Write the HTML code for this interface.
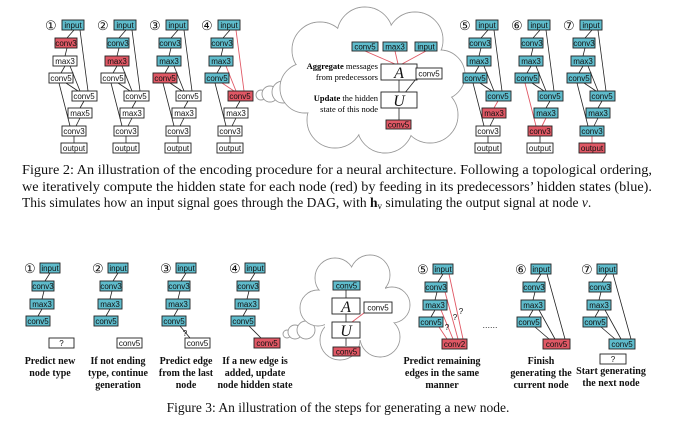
<!DOCTYPE html>
<html><head><meta charset="utf-8"><style>
html,body{margin:0;padding:0;background:#fff;overflow:hidden;}
svg{display:block;font-family:"Liberation Sans",sans-serif;}
.b{fill:#fff;stroke:#222;stroke-width:0.9}
.c{fill:#5fbccc;stroke:#222;stroke-width:0.9}
.r{fill:#e05865;stroke:#222;stroke-width:0.9}
.t{font-size:8px;text-anchor:middle;fill:#111}
.l{stroke:#222;stroke-width:0.8;fill:none}
.lr{stroke:#e05865;stroke-width:0.9;fill:none}
.n{font-size:13px;fill:#111}
.s{font-family:"Liberation Serif",serif;font-weight:bold;font-size:10px;text-anchor:middle;fill:#111}
.cap{font-family:"Liberation Serif",serif;font-size:13.5px;fill:#111}
.cl{fill:#fff;stroke:#999;stroke-width:0.9}
.cf{fill:#fff;stroke:none}
.m{font-family:"Liberation Serif",serif;font-style:italic;font-size:16px;text-anchor:middle;fill:#111}
</style></head><body>
<svg width="676" height="422" viewBox="0 0 676 422">

<g transform="translate(62,20)">
<text class="n" x="-17" y="10">①</text>
<path class="l" d="M12 10L5 18M5 28L3 36M3 46L-1 53M8 46L18 71M4 63L16 71M18 10L26 71M-3 63L8 106M22 81L18 88M18 98L14 106M12 116L12 123"/>
<rect class="c" x="0" y="0" width="22" height="10"/><text class="t" x="11" y="8">input</text>
<rect class="r" x="-7" y="18" width="22" height="10"/><text class="t" x="4" y="26">conv3</text>
<rect class="b" x="-9" y="36" width="24" height="10"/><text class="t" x="3" y="44">max3</text>
<rect class="b" x="-13" y="53" width="24" height="10"/><text class="t" x="-1" y="61">conv5</text>
<rect class="b" x="10" y="71" width="25" height="10"/><text class="t" x="22" y="79">conv5</text>
<rect class="b" x="6" y="88" width="24" height="10"/><text class="t" x="18" y="96">max5</text>
<rect class="b" x="0" y="106" width="24" height="10"/><text class="t" x="12" y="114">conv3</text>
<rect class="b" x="-1" y="123" width="26" height="10"/><text class="t" x="12" y="131">output</text>
</g>
<g transform="translate(114,20)">
<text class="n" x="-17" y="10">②</text>
<path class="l" d="M12 10L5 18M5 28L3 36M3 46L-1 53M8 46L18 71M4 63L16 71M18 10L26 71M-3 63L8 106M22 81L18 88M18 98L14 106M12 116L12 123"/>
<rect class="c" x="0" y="0" width="22" height="10"/><text class="t" x="11" y="8">input</text>
<rect class="c" x="-7" y="18" width="22" height="10"/><text class="t" x="4" y="26">conv3</text>
<rect class="r" x="-9" y="36" width="24" height="10"/><text class="t" x="3" y="44">max3</text>
<rect class="b" x="-13" y="53" width="24" height="10"/><text class="t" x="-1" y="61">conv5</text>
<rect class="b" x="10" y="71" width="25" height="10"/><text class="t" x="22" y="79">conv5</text>
<rect class="b" x="6" y="88" width="24" height="10"/><text class="t" x="18" y="96">max3</text>
<rect class="b" x="0" y="106" width="24" height="10"/><text class="t" x="12" y="114">conv3</text>
<rect class="b" x="-1" y="123" width="26" height="10"/><text class="t" x="12" y="131">output</text>
</g>
<g transform="translate(166,20)">
<text class="n" x="-17" y="10">③</text>
<path class="l" d="M12 10L5 18M5 28L3 36M3 46L-1 53M8 46L18 71M4 63L16 71M18 10L26 71M-3 63L8 106M22 81L18 88M18 98L14 106M12 116L12 123"/>
<rect class="c" x="0" y="0" width="22" height="10"/><text class="t" x="11" y="8">input</text>
<rect class="c" x="-7" y="18" width="22" height="10"/><text class="t" x="4" y="26">conv3</text>
<rect class="c" x="-9" y="36" width="24" height="10"/><text class="t" x="3" y="44">max3</text>
<rect class="r" x="-13" y="53" width="24" height="10"/><text class="t" x="-1" y="61">conv5</text>
<rect class="b" x="10" y="71" width="25" height="10"/><text class="t" x="22" y="79">conv5</text>
<rect class="b" x="6" y="88" width="24" height="10"/><text class="t" x="18" y="96">max3</text>
<rect class="b" x="0" y="106" width="24" height="10"/><text class="t" x="12" y="114">conv3</text>
<rect class="b" x="-1" y="123" width="26" height="10"/><text class="t" x="12" y="131">output</text>
</g>
<g transform="translate(218,20)">
<text class="n" x="-17" y="10">④</text>
<path class="l" d="M12 10L5 18M5 28L3 36M3 46L-1 53M-3 63L8 106M22 81L18 88M18 98L14 106M12 116L12 123"/>
<path class="lr" d="M8 46L18 71M4 63L16 71M18 10L26 71"/>
<rect class="c" x="0" y="0" width="22" height="10"/><text class="t" x="11" y="8">input</text>
<rect class="c" x="-7" y="18" width="22" height="10"/><text class="t" x="4" y="26">conv3</text>
<rect class="c" x="-9" y="36" width="24" height="10"/><text class="t" x="3" y="44">max3</text>
<rect class="c" x="-13" y="53" width="24" height="10"/><text class="t" x="-1" y="61">conv5</text>
<rect class="r" x="10" y="71" width="25" height="10"/><text class="t" x="22" y="79">conv5</text>
<rect class="b" x="6" y="88" width="24" height="10"/><text class="t" x="18" y="96">max3</text>
<rect class="b" x="0" y="106" width="24" height="10"/><text class="t" x="12" y="114">conv3</text>
<rect class="b" x="-1" y="123" width="26" height="10"/><text class="t" x="12" y="131">output</text>
</g>

<g>
<circle class="cl" cx="261" cy="95" r="5"/>
<circle class="cl" cx="270" cy="94" r="8"/>
<circle class="cl" cx="283" cy="92" r="11"/>
<circle class="cl" cx="320" cy="50" r="28"/><circle class="cl" cx="365" cy="35" r="28"/>
<circle class="cl" cx="415" cy="40" r="28"/><circle class="cl" cx="440" cy="75" r="25"/>
<circle class="cl" cx="430" cy="115" r="28"/><circle class="cl" cx="385" cy="125" r="28"/>
<circle class="cl" cx="335" cy="120" r="28"/><circle class="cl" cx="305" cy="88" r="25"/>
<circle class="cf" cx="320" cy="50" r="27.5"/><circle class="cf" cx="365" cy="35" r="27.5"/>
<circle class="cf" cx="415" cy="40" r="27.5"/><circle class="cf" cx="440" cy="75" r="24.5"/>
<circle class="cf" cx="430" cy="115" r="27.5"/><circle class="cf" cx="385" cy="125" r="27.5"/>
<circle class="cf" cx="335" cy="120" r="27.5"/><circle class="cf" cx="305" cy="88" r="24.5"/>
<rect class="cf" x="315" y="45" width="120" height="85"/>
<path class="lr" d="M365 51L395 64M395 51L398 64M426 51L402 64"/>
<path class="l" d="M399 80L399 92M416 79L404 94M399 108L399 120"/>
<rect class="c" x="352" y="42" width="26" height="9"/><text class="t" x="365" y="49.5">conv5</text>
<rect class="c" x="383" y="42" width="24" height="9"/><text class="t" x="395" y="49.5">max3</text>
<rect class="c" x="415" y="42" width="22" height="9"/><text class="t" x="426" y="49.5">input</text>
<rect class="b" x="381" y="64" width="36" height="16"/><text class="m" x="399" y="78">A</text>
<rect class="b" x="416" y="68" width="26" height="11"/><text class="t" x="429" y="76.5">conv5</text>
<rect class="b" x="381" y="92" width="36" height="16"/><text class="m" x="399" y="106">U</text>
<rect class="r" x="386" y="120" width="25" height="9"/><text class="t" x="398.5" y="127.5">conv5</text>
<text x="378" y="69" font-family="Liberation Serif,serif" font-size="8.5" text-anchor="end"><tspan font-weight="bold">Aggregate</tspan> messages</text>
<text x="378" y="80" font-family="Liberation Serif,serif" font-size="8.5" text-anchor="end">from predecessors</text>
<text x="378" y="101" font-family="Liberation Serif,serif" font-size="8.5" text-anchor="end"><tspan font-weight="bold">Update</tspan> the hidden</text>
<text x="378" y="112" font-family="Liberation Serif,serif" font-size="8.5" text-anchor="end">state of this node</text>
</g>

<g transform="translate(476,20)">
<text class="n" x="-17" y="10">⑤</text>
<path class="l" d="M12 10L5 18M5 28L3 36M3 46L-1 53M8 46L18 71M4 63L16 71M18 10L26 71M-3 63L8 106M18 98L14 106M12 116L12 123"/>
<path class="lr" d="M22 81L18 88"/>
<rect class="c" x="0" y="0" width="22" height="10"/><text class="t" x="11" y="8">input</text>
<rect class="c" x="-7" y="18" width="22" height="10"/><text class="t" x="4" y="26">conv3</text>
<rect class="c" x="-9" y="36" width="24" height="10"/><text class="t" x="3" y="44">max3</text>
<rect class="c" x="-13" y="53" width="24" height="10"/><text class="t" x="-1" y="61">conv5</text>
<rect class="c" x="10" y="71" width="25" height="10"/><text class="t" x="22" y="79">conv5</text>
<rect class="r" x="6" y="88" width="24" height="10"/><text class="t" x="18" y="96">max3</text>
<rect class="b" x="0" y="106" width="24" height="10"/><text class="t" x="12" y="114">conv3</text>
<rect class="b" x="-1" y="123" width="26" height="10"/><text class="t" x="12" y="131">output</text>
</g>
<g transform="translate(528,20)">
<text class="n" x="-17" y="10">⑥</text>
<path class="l" d="M12 10L5 18M5 28L3 36M3 46L-1 53M8 46L18 71M4 63L16 71M18 10L26 71M22 81L18 88M12 116L12 123"/>
<path class="lr" d="M-3 63L8 106M18 98L14 106"/>
<rect class="c" x="0" y="0" width="22" height="10"/><text class="t" x="11" y="8">input</text>
<rect class="c" x="-7" y="18" width="22" height="10"/><text class="t" x="4" y="26">conv3</text>
<rect class="c" x="-9" y="36" width="24" height="10"/><text class="t" x="3" y="44">max3</text>
<rect class="c" x="-13" y="53" width="24" height="10"/><text class="t" x="-1" y="61">conv5</text>
<rect class="c" x="10" y="71" width="25" height="10"/><text class="t" x="22" y="79">conv5</text>
<rect class="c" x="6" y="88" width="24" height="10"/><text class="t" x="18" y="96">max3</text>
<rect class="r" x="0" y="106" width="24" height="10"/><text class="t" x="12" y="114">conv3</text>
<rect class="b" x="-1" y="123" width="26" height="10"/><text class="t" x="12" y="131">output</text>
</g>
<g transform="translate(580,20)">
<text class="n" x="-17" y="10">⑦</text>
<path class="l" d="M12 10L5 18M5 28L3 36M3 46L-1 53M8 46L18 71M4 63L16 71M18 10L26 71M-3 63L8 106M22 81L18 88M18 98L14 106"/>
<path class="lr" d="M12 116L12 123"/>
<rect class="c" x="0" y="0" width="22" height="10"/><text class="t" x="11" y="8">input</text>
<rect class="c" x="-7" y="18" width="22" height="10"/><text class="t" x="4" y="26">conv3</text>
<rect class="c" x="-9" y="36" width="24" height="10"/><text class="t" x="3" y="44">max3</text>
<rect class="c" x="-13" y="53" width="24" height="10"/><text class="t" x="-1" y="61">conv5</text>
<rect class="c" x="10" y="71" width="25" height="10"/><text class="t" x="22" y="79">conv5</text>
<rect class="c" x="6" y="88" width="24" height="10"/><text class="t" x="18" y="96">max3</text>
<rect class="c" x="0" y="106" width="24" height="10"/><text class="t" x="12" y="114">conv3</text>
<rect class="r" x="-1" y="123" width="26" height="10"/><text class="t" x="12" y="131">output</text>
</g>

<text class="cap" x="22" y="174" textLength="630" lengthAdjust="spacingAndGlyphs">Figure 2: An illustration of the encoding procedure for a neural architecture. Following a topological ordering,</text>
<text class="cap" x="22" y="191" textLength="630" lengthAdjust="spacingAndGlyphs">we iteratively compute the hidden state for each node (red) by feeding in its predecessors’ hidden states (blue).</text>
<text class="cap" x="22" y="207">This simulates how an input signal goes through the DAG, with <tspan font-weight="bold">h</tspan><tspan font-size="9" dy="2">v</tspan><tspan dy="-2"> simulating the output signal at node </tspan><tspan font-style="italic">v</tspan>.</text>

<g transform="translate(40,263)">
<text class="n" x="-16" y="10">①</text>
<path class="l" d="M10 10L5 18M4 28L2 36M2 46L-2 53"/>
<rect class="c" x="0" y="0" width="20" height="10"/><text class="t" x="10" y="8">input</text>
<rect class="c" x="-8" y="18" width="22" height="10"/><text class="t" x="3" y="26">conv3</text>
<rect class="c" x="-10" y="36" width="24" height="10"/><text class="t" x="2" y="44">max3</text>
<rect class="c" x="-14" y="53" width="24" height="10"/><text class="t" x="-2" y="61">conv5</text>
<rect class="b" x="9" y="75" width="25" height="10"/><text class="t" x="21.5" y="83">?</text>
<text class="s" x="10" y="101">Predict new</text>
<text class="s" x="10" y="113">node type</text>
</g>
<g transform="translate(108,263)">
<text class="n" x="-16" y="10">②</text>
<path class="l" d="M10 10L5 18M4 28L2 36M2 46L-2 53"/>
<rect class="c" x="0" y="0" width="20" height="10"/><text class="t" x="10" y="8">input</text>
<rect class="c" x="-8" y="18" width="22" height="10"/><text class="t" x="3" y="26">conv3</text>
<rect class="c" x="-10" y="36" width="24" height="10"/><text class="t" x="2" y="44">max3</text>
<rect class="c" x="-14" y="53" width="24" height="10"/><text class="t" x="-2" y="61">conv5</text>
<rect class="b" x="9" y="75" width="25" height="10"/><text class="t" x="21.5" y="83">conv5</text>
<text class="s" x="10" y="101">If not ending</text>
<text class="s" x="10" y="113">type, continue</text>
<text class="s" x="10" y="125">generation</text>
</g>
<g transform="translate(176,263)">
<text class="n" x="-16" y="10">③</text>
<path class="l" d="M10 10L5 18M4 28L2 36M2 46L-2 53M4 63L14 75"/>
<text class="t" x="9" y="73">?</text>
<rect class="c" x="0" y="0" width="20" height="10"/><text class="t" x="10" y="8">input</text>
<rect class="c" x="-8" y="18" width="22" height="10"/><text class="t" x="3" y="26">conv3</text>
<rect class="c" x="-10" y="36" width="24" height="10"/><text class="t" x="2" y="44">max3</text>
<rect class="c" x="-14" y="53" width="24" height="10"/><text class="t" x="-2" y="61">conv5</text>
<rect class="b" x="9" y="75" width="25" height="10"/><text class="t" x="21.5" y="83">conv5</text>
<text class="s" x="10" y="101">Predict edge</text>
<text class="s" x="10" y="113">from the last</text>
<text class="s" x="10" y="125">node</text>
</g>
<g transform="translate(245,263)">
<text class="n" x="-16" y="10">④</text>
<path class="l" d="M10 10L5 18M4 28L2 36M2 46L-2 53M4 63L16 75"/>
<rect class="c" x="0" y="0" width="20" height="10"/><text class="t" x="10" y="8">input</text>
<rect class="c" x="-8" y="18" width="22" height="10"/><text class="t" x="3" y="26">conv3</text>
<rect class="c" x="-10" y="36" width="24" height="10"/><text class="t" x="2" y="44">max3</text>
<rect class="c" x="-14" y="53" width="24" height="10"/><text class="t" x="-2" y="61">conv5</text>
<rect class="r" x="9" y="75" width="26" height="10"/><text class="t" x="22" y="83">conv5</text>
<text class="s" x="10" y="101">If a new edge is</text>
<text class="s" x="10" y="113">added, update</text>
<text class="s" x="10" y="125">node hidden state</text>
</g>

<g>
<circle class="cl" cx="287" cy="334" r="4"/>
<circle class="cl" cx="295" cy="332" r="7"/>
<circle class="cl" cx="306" cy="330" r="9"/>
<circle class="cl" cx="335" cy="278" r="20"/><circle class="cl" cx="370" cy="275" r="20"/>
<circle class="cl" cx="392" cy="305" r="18"/><circle class="cl" cx="380" cy="337" r="20"/>
<circle class="cl" cx="340" cy="340" r="20"/><circle class="cl" cx="318" cy="308" r="18"/>
<circle class="cf" cx="335" cy="278" r="19.5"/><circle class="cf" cx="370" cy="275" r="19.5"/>
<circle class="cf" cx="392" cy="305" r="17.5"/><circle class="cf" cx="380" cy="337" r="19.5"/>
<circle class="cf" cx="340" cy="340" r="19.5"/><circle class="cf" cx="318" cy="308" r="17.5"/>
<rect class="cf" x="325" y="275" width="60" height="65"/>
<path class="l" d="M346 290L346 298M346 314L346 322M346 338L346 346"/>
<path class="lr" d="M364 313L352 322"/>
<rect class="c" x="333" y="281" width="27" height="9"/><text class="t" x="346.5" y="288.5">conv5</text>
<rect class="b" x="332" y="298" width="28" height="16"/><text class="m" x="346" y="312">A</text>
<rect class="b" x="364" y="302" width="28" height="11"/><text class="t" x="378" y="310.5">conv5</text>
<rect class="b" x="332" y="322" width="28" height="16"/><text class="m" x="346" y="336">U</text>
<rect class="r" x="333" y="347" width="27" height="9"/><text class="t" x="346.5" y="354.5">conv5</text>
</g>

<g transform="translate(433,264)">
<text class="n" x="-16" y="10">⑤</text>
<path class="l" d="M10 10L5 18M4 28L2 36M2 46L-2 53"/>
<path class="lr" d="M16 10L30 75M12 28L25 75M8 46L20 75M6 63L14 75"/>
<text class="t" x="28" y="50">?</text><text class="t" x="22" y="56">?</text><text class="t" x="14" y="66">?</text>
<rect class="c" x="0" y="0" width="20" height="10"/><text class="t" x="10" y="8">input</text>
<rect class="c" x="-8" y="18" width="22" height="10"/><text class="t" x="3" y="26">conv3</text>
<rect class="c" x="-10" y="36" width="24" height="10"/><text class="t" x="2" y="44">max3</text>
<rect class="c" x="-14" y="53" width="24" height="10"/><text class="t" x="-2" y="61">conv5</text>
<rect class="r" x="9" y="75" width="25" height="10"/><text class="t" x="21.5" y="83">conv2</text>
<text class="s" x="9" y="100">Predict remaining</text>
<text class="s" x="9" y="112">edges in the same</text>
<text class="s" x="9" y="124">manner</text>
</g>
<text x="490" y="328" font-size="9" text-anchor="middle" fill="#333">......</text>
<g transform="translate(531,264)">
<text class="n" x="-16" y="10">⑥</text>
<path class="l" d="M10 10L5 18M4 28L2 36M2 46L-2 53M16 10L34 75M8 46L24 75M4 63L18 75"/>
<rect class="c" x="0" y="0" width="20" height="10"/><text class="t" x="10" y="8">input</text>
<rect class="c" x="-8" y="18" width="22" height="10"/><text class="t" x="3" y="26">conv3</text>
<rect class="c" x="-10" y="36" width="24" height="10"/><text class="t" x="2" y="44">max3</text>
<rect class="c" x="-14" y="53" width="24" height="10"/><text class="t" x="-2" y="61">conv5</text>
<rect class="r" x="12" y="75" width="27" height="10"/><text class="t" x="25.5" y="83">conv5</text>
<text class="s" x="10" y="100">Finish</text>
<text class="s" x="10" y="112">generating the</text>
<text class="s" x="10" y="124">current node</text>
</g>
<g transform="translate(597,264)">
<text class="n" x="-16" y="10">⑦</text>
<path class="l" d="M10 10L5 18M4 28L2 36M2 46L-2 53M16 10L34 75M8 46L24 75M4 63L18 75"/>
<rect class="c" x="0" y="0" width="20" height="10"/><text class="t" x="10" y="8">input</text>
<rect class="c" x="-8" y="18" width="22" height="10"/><text class="t" x="3" y="26">conv3</text>
<rect class="c" x="-10" y="36" width="24" height="10"/><text class="t" x="2" y="44">max3</text>
<rect class="c" x="-14" y="53" width="24" height="10"/><text class="t" x="-2" y="61">conv5</text>
<rect class="c" x="12" y="75" width="26" height="10"/><text class="t" x="25" y="83">conv5</text>
<rect class="b" x="3" y="90" width="26" height="10"/><text class="t" x="16" y="98">?</text>
<text class="s" x="14" y="110">Start generating</text>
<text class="s" x="14" y="122">the next node</text>
</g>

<text class="cap" x="338" y="412" text-anchor="middle">Figure 3: An illustration of the steps for generating a new node.</text>
</svg>
</body></html>
